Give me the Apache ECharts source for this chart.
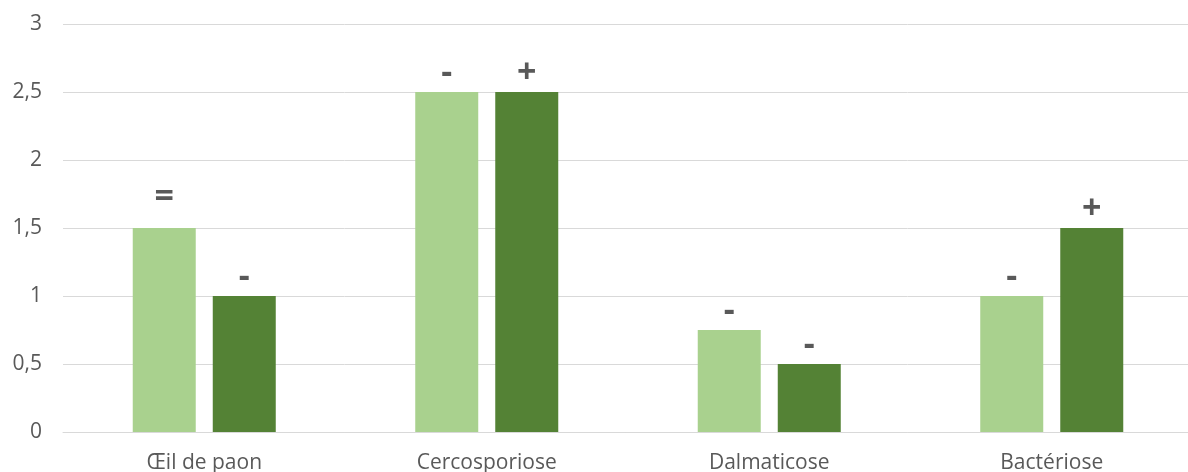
<!DOCTYPE html>
<html>
<head>
<meta charset="utf-8">
<script src="https://cdn.jsdelivr.net/npm/echarts@6/dist/echarts.min.js"></script>
<style>
  html, body { margin: 0; padding: 0; background: #fff; }
  #chart { width: 1188px; height: 472px; }
</style>
</head>
<body>
<div id="chart"></div>
<script>
// Disease categories along the x axis
const categories = ['Œil de paon', 'Cercosporiose', 'Dalmaticose', 'Bactériose'];
// Scores for the two series (light and dark green)
const lightValues = [1.5, 2.5, 0.75, 1];
const darkValues = [1, 2.5, 0.5, 1.5];
// Trend signs printed above each bar
const lightSigns = ['=', '-', '-', '-'];
const darkSigns = ['-', '+', '-', '+'];
// Y axis ticks
const yMin = 0, yMax = 3, yStep = 0.5;

const signLabel = (signs) => ({
  show: true,
  position: 'top',
  distance: 2,
  color: '#595959',
  fontSize: 34,
  fontWeight: 'bold',
  fontFamily: 'Open Sans',
  formatter: (p) => signs[p.dataIndex]
});

// The "=" sign sits a little higher above its bar
const buildData = (values, signs) => values.map((v, i) => ({
  value: v,
  label: signs[i] === '=' ? { distance: 14 } : undefined
}));

const chart = echarts.init(document.getElementById('chart'));
chart.setOption({
  animation: false,
  // plot area runs slightly past the right edge; labels may be clipped at the bottom
  grid: {
    left: 63, width: 1130, top: 24, bottom: 40,
    containLabel: false, outerBoundsMode: 'none'
  },
  xAxis: {
    type: 'category',
    data: categories,
    axisLine: { lineStyle: { color: '#D9D9D9', width: 1 } },
    axisTick: { show: false },
    axisLabel: { color: '#595959', fontSize: 21, fontFamily: 'Open Sans', margin: 21 }
  },
  yAxis: {
    type: 'value',
    min: yMin, max: yMax, interval: yStep,
    axisLine: { show: false },
    axisTick: { show: false },
    splitLine: { lineStyle: { color: '#D9D9D9', width: 1 } },
    axisLabel: {
      color: '#595959', fontSize: 21, fontFamily: 'Open Sans', margin: 21,
      formatter: (v) => String(v).replace('.', ',')
    }
  },
  series: [
    {
      type: 'bar',
      data: buildData(lightValues, lightSigns),
      barWidth: 63,
      barGap: '27%',
      itemStyle: { color: '#A9D18E' },
      label: signLabel(lightSigns)
    },
    {
      type: 'bar',
      data: buildData(darkValues, darkSigns),
      barWidth: 63,
      barGap: '27%',
      itemStyle: { color: '#548235' },
      label: signLabel(darkSigns)
    }
  ]
});
</script>
</body>
</html>
